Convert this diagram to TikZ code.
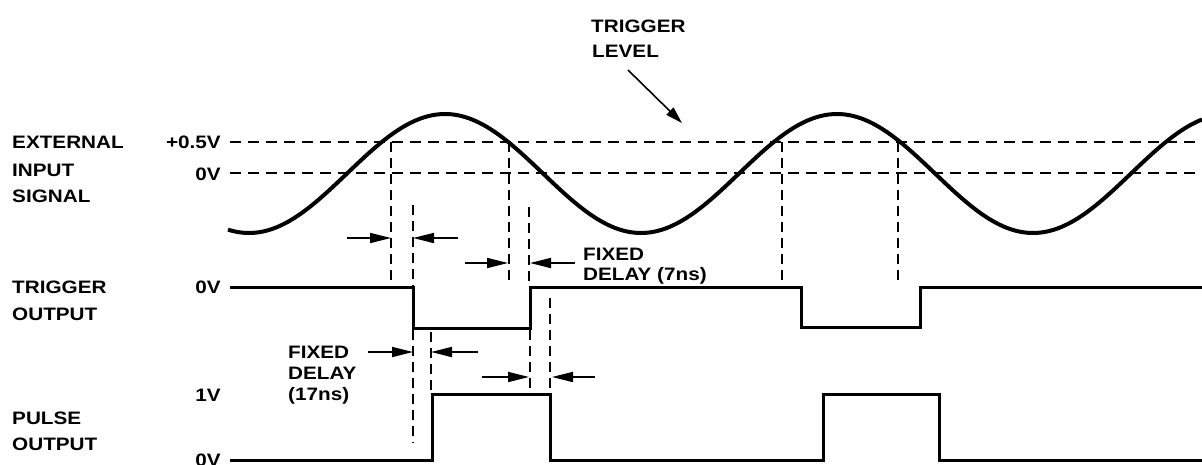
\documentclass[tikz,border=0pt]{standalone}
\usepackage{fontspec}
\setmainfont{Liberation Sans}[FakeStretch=1.15]
\usetikzlibrary{arrows.meta}
\tikzset{
  lbl/.style={anchor=base west, inner sep=0pt, font=\fontsize{18}{20}\selectfont\bfseries},
  rlbl/.style={anchor=base east, inner sep=0pt, font=\fontsize{18}{20}\selectfont\bfseries},
  lvl/.style={line width=2pt, dash pattern=on 11pt off 7pt},
  vguide/.style={line width=2pt, dash pattern=on 10pt off 6pt},
  wave/.style={line width=4pt, line join=round},
  pulse/.style={line width=3pt, line join=miter},
  dim/.style={line width=1.8pt, -{Triangle[length=21pt,width=10pt]}},
  ptr/.style={line width=1.6pt, -{Triangle[length=17pt,width=10pt]}}
}
\begin{document}
\begin{tikzpicture}[x=1pt,y=-1pt]
\useasboundingbox (0,0) rectangle (1202,464);
% labels on the left
\node[lbl] (ext) at (12,148.5) {EXTERNAL};
\node[lbl] (inp) at (12,176) {INPUT};
\node[lbl] (sig) at (12,202.5) {SIGNAL};
\node[lbl] (trg) at (12,293.5) {TRIGGER};
\node[lbl] (tout) at (12,320.5) {OUTPUT};
\node[lbl] (pls) at (12,424.5) {PULSE};
\node[lbl] (pout) at (12,450) {OUTPUT};
% level labels
\node[rlbl] (vhalf) at (221,148.5) {+0.5V};
\node[rlbl] (vzero) at (221,180) {0V};
\node[rlbl] (tzero) at (221,293.5) {0V};
\node[rlbl] (pone) at (221,401.5) {1V};
\node[rlbl] (pzero) at (221,466.5) {0V};
% trigger level annotation
\node[lbl] (tl1) at (591,32) {TRIGGER};
\node[lbl] (tl2) at (592,57) {LEVEL};
\coordinate (tlA) at (628,70);
\coordinate (tlB) at (682,123);
\draw[ptr] (tlA) -- (tlB);
% fixed delay labels
\node[lbl] (fd1) at (288,358.5) {FIXED};
\node[lbl] (fd2) at (288,379.5) {DELAY};
\node[lbl] (fd3) at (288,400) {(17ns)};
\node[lbl] (fe1) at (583,260) {FIXED};
\node[lbl] (fe2) at (583,280) {DELAY (7ns)};
% level lines
\draw[lvl] (230,142) -- (1202,142);
\draw[lvl] (230,173) -- (1202,173);
% sine
\draw[wave] plot[domain=228:1202, samples=220, smooth] (\x, {173.5 - 59.5*sin((\x-347)/392*360)});
% vertical guides
\draw[vguide] (391,142) -- (391,285);
\draw[vguide] (509,142) -- (509,285);
\draw[vguide] (782,142) -- (782,280);
\draw[vguide] (898,142) -- (898,280);
\draw[vguide] (413,205) -- (413,287);
\draw[vguide] (413,330) -- (413,443);
\draw[vguide] (529,207) -- (529,287);
\draw[vguide] (530,330) -- (530,390);
\draw[vguide] (431,332) -- (431,393);
\draw[vguide] (550,298) -- (550,392);
% dimension arrows
\draw[dim] (347,238) -- (391,238);
\draw[dim] (458,238) -- (413,238);
\draw[dim] (465,263) -- (508,263);
\draw[dim] (575,263) -- (530,263);
\draw[dim] (368,352) -- (413,352);
\draw[dim] (478,352) -- (431,352);
\draw[dim] (482,377) -- (529,377);
\draw[dim] (595,377) -- (552,377);
% trigger output
\draw[pulse] (230,287) -- (413,287) -- (413,328) -- (530,328) -- (530,287) -- (801,287) -- (801,327) -- (920,327) -- (920,287) -- (1202,287);
% pulse output
\draw[pulse] (230,460) -- (432,460) -- (432,394) -- (550,394) -- (550,460) -- (823,460) -- (823,394) -- (939,394) -- (939,460) -- (1202,460);
\end{tikzpicture}
\end{document}
